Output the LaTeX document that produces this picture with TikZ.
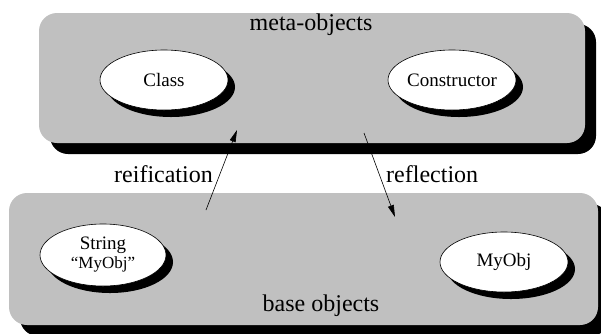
\documentclass[tikz,border=0pt]{standalone}
\usepackage{fontspec}
\setmainfont{Liberation Serif}
\newfontfamily\tmsfont{Liberation Serif}
\usetikzlibrary{arrows.meta,shapes.geometric,shadows}
\definecolor{boxgray}{RGB}{192,192,192}
\begin{document}
\begin{tikzpicture}[x=1pt,y=-1pt,
  panel/.style={rectangle, fill=boxgray, rounded corners=18pt, inner sep=0pt,
    drop shadow={shadow xshift=11pt, shadow yshift=-11pt, fill=black, opacity=1}},
  obj/.style={ellipse, draw=black, line width=0.6pt, fill=white, inner sep=0pt,
    minimum width=128pt, minimum height=60pt, align=center,
    font=\tmsfont\fontsize{19}{20}\selectfont,
    drop shadow={shadow xshift=7pt, shadow yshift=-7pt, fill=black, opacity=1}},
  lbl/.style={font=\tmsfont\fontsize{24}{26}\selectfont, inner sep=0pt},
  flow/.style={line width=0.6pt, -{Triangle[length=12pt, width=6pt]}}
]
\useasboundingbox (0,0) rectangle (601,333);
\node[panel, minimum width=546pt, minimum height=130pt] (meta) at (312,78) {};
\node[panel, minimum width=589pt, minimum height=132pt] (base) at (303.5,259) {};
\node[lbl] (metalbl) at (311,25) {meta-objects};
\node[lbl] (baselbl) at (321,306) {base objects};
\node[obj] (class) at (164,80) {Class};
\node[obj] (ctor) at (452,80) {Constructor};
\node[obj, minimum width=126pt, minimum height=62pt] (string) at (103,255) {String\\[-1pt]{\fontsize{17}{19}\selectfont “MyObj”}};
\node[obj] (myobj) at (504,262) {MyObj};
\coordinate (reifS) at (206,210);
\coordinate (reifE) at (237,130);
\coordinate (reflS) at (364,133);
\coordinate (reflE) at (395,217);
\draw[flow] (reifS) -- (reifE);
\draw[flow] (reflS) -- (reflE);
\node[lbl, anchor=base east] (reif) at (213,182) {reification};
\node[lbl, anchor=base west] (refl) at (386,182) {reflection};
\end{tikzpicture}
\end{document}
